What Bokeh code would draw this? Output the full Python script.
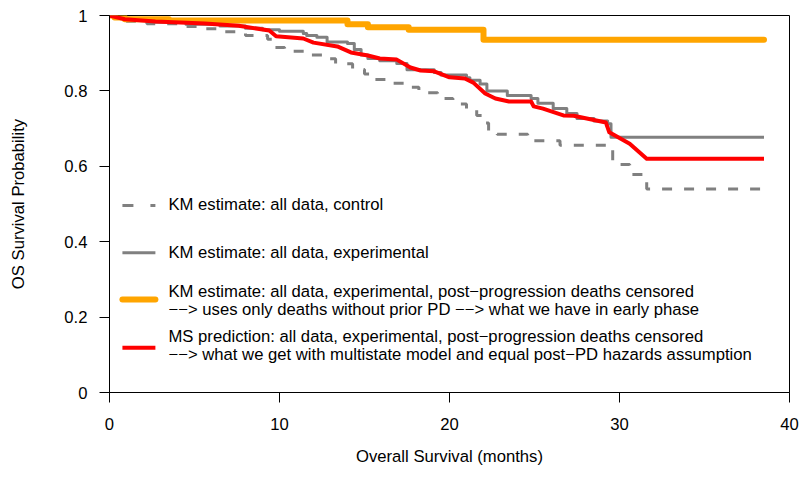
from bokeh.plotting import figure
from bokeh.models import Range1d, FixedTicker, Label, CustomJSTickFormatter
from bokeh.embed import file_html
from bokeh.resources import INLINE

# Kaplan-Meier estimate, all data, control arm (step function)
ctrl_months = [0, 0.3, 1.0, 2.2, 4.0, 5.5, 6.8, 8.0, 9.3, 9.6, 10.3, 11.5, 12.6, 13.3,
               14.3, 15.0, 15.6, 16.6, 17.7, 18.2, 19.3, 20.2, 21.0, 21.6, 22.0, 22.3,
               22.8, 24.6, 26.5, 29.3, 29.6, 30.6, 31.6, 38.5]
ctrl_surv = [1.0, 0.993, 0.985, 0.978, 0.971, 0.965, 0.957, 0.947, 0.937, 0.915, 0.905,
             0.895, 0.885, 0.872, 0.857, 0.845, 0.83, 0.82, 0.81, 0.795, 0.78, 0.765,
             0.75, 0.735, 0.715, 0.695, 0.685, 0.668, 0.656, 0.645, 0.605, 0.578, 0.54, 0.54]

# Kaplan-Meier estimate, all data, experimental arm
exp_months = [0, 0.4, 1.2, 2.5, 4.5, 6.5, 8.0, 9.0, 10.0, 11.4, 11.6, 12.2, 12.8, 14.0,
              14.4, 14.8, 15.2, 15.9, 16.9, 17.5, 19.1, 19.5, 21.0, 21.2, 21.8, 22.2,
              23.4, 24.8, 25.2, 26.1, 26.9, 27.5, 28.5, 29.3, 29.5, 38.5]
exp_surv = [1.0, 0.993, 0.987, 0.982, 0.977, 0.972, 0.966, 0.962, 0.958, 0.952, 0.947,
            0.942, 0.93, 0.926, 0.91, 0.895, 0.886, 0.88, 0.873, 0.856, 0.849, 0.842,
            0.835, 0.828, 0.818, 0.80, 0.788, 0.78, 0.767, 0.753, 0.74, 0.727, 0.72,
            0.713, 0.677, 0.677]

# Experimental arm with post-progression deaths censored
cens_months = [0, 0.3, 0.9, 3.5, 14.0, 15.2, 17.6, 22.0, 38.5]
cens_surv = [1.0, 0.995, 0.99, 0.987, 0.977, 0.969, 0.962, 0.936, 0.936]

# Multistate model prediction
ms_months = [0, 0.9, 2.7, 5.6, 7.6, 9.4, 9.8, 11.4, 12.0, 13.4, 14.2, 15.2, 15.9, 16.9,
             17.7, 18.3, 19.1, 20.0, 20.9, 21.4, 22.1, 22.7, 23.5, 24.8, 24.95, 25.5,
             26.7, 27.3, 29.2, 29.4, 30.0, 30.6, 31.6, 38.5]
ms_surv = [1.0, 0.99, 0.984, 0.979, 0.973, 0.96, 0.945, 0.939, 0.928, 0.918, 0.902,
           0.894, 0.886, 0.883, 0.862, 0.854, 0.852, 0.836, 0.833, 0.822, 0.793, 0.78,
           0.772, 0.772, 0.759, 0.753, 0.735, 0.734, 0.716, 0.69, 0.675, 0.66, 0.62, 0.62]

x_ticks = [0, 10, 20, 30, 40]
y_ticks = [0, 0.2, 0.4, 0.6, 0.8, 1]

legend_rows = [
    ["KM estimate: all data, control"],
    ["KM estimate: all data, experimental"],
    ["KM estimate: all data, experimental, post\u2212progression deaths censored",
     "\u2212\u2212> uses only deaths without prior PD \u2212\u2212> what we have in early phase"],
    ["MS prediction: all data, experimental, post\u2212progression deaths censored",
     "\u2212\u2212> what we get with multistate model and equal post\u2212PD hazards assumption"],
]

FONT = "Liberation Sans"
FS = "16.67px"
GREY = "#808080"
ORANGE = "#FFA500"
RED = "#FF0000"

p = figure(width=801, height=493, output_backend="svg", toolbar_location=None,
           x_range=Range1d(0, 40), y_range=Range1d(0, 1),
           min_border_left=109, min_border_right=12, min_border_top=15,
           min_border_bottom=101)
p.xgrid.visible = False
p.ygrid.visible = False
p.outline_line_color = "black"
p.outline_line_width = 1
p.background_fill_color = "white"
p.border_fill_color = "white"

for ax in (p.xaxis[0], p.yaxis[0]):
    ax.axis_line_color = "black"
    ax.axis_line_width = 1
    ax.major_tick_in = 0
    ax.major_tick_out = 10
    ax.major_tick_line_color = "black"
    ax.minor_tick_line_color = None
    ax.major_label_text_font = FONT
    ax.major_label_text_font_size = FS
    ax.major_label_text_color = "black"
    ax.axis_label_text_font = FONT
    ax.axis_label_text_font_size = FS
    ax.axis_label_text_font_style = "normal"
    ax.axis_label_text_color = "black"

p.xaxis.ticker = FixedTicker(ticks=x_ticks)
p.yaxis.ticker = FixedTicker(ticks=y_ticks)
p.yaxis.formatter = CustomJSTickFormatter(code="return String(tick)")
p.yaxis.major_label_orientation = "horizontal"
p.xaxis.axis_label = "Overall Survival (months)"
p.yaxis.axis_label = "OS Survival Probability"
p.xaxis.major_label_standoff = 15
p.xaxis.axis_label_standoff = 14
p.yaxis.major_label_standoff = 12
p.yaxis.axis_label_standoff = 33

# survival curves
p.step(ctrl_months, ctrl_surv, mode="after", line_color=GREY, line_width=3,
       line_dash="10 12")
p.step(exp_months, exp_surv, mode="after", line_color=GREY, line_width=3,
       line_join="round")
p.step(cens_months, cens_surv, mode="after", line_color=ORANGE, line_width=6,
       line_join="round", line_cap="round")
p.line(ms_months, ms_surv, line_color=RED, line_width=4, line_join="round")

# legend (no frame), keys and labels placed in data space
key_x = [0.76, 2.7]
key_specs = [
    dict(y=0.496, color=GREY, width=3, dash="11 17", cap="butt"),
    dict(y=0.371, color=GREY, width=3, dash="solid", cap="butt"),
    dict(y=0.247, color=ORANGE, width=6, dash="solid", cap="round"),
    dict(y=0.119, color=RED, width=4, dash="solid", cap="butt"),
]
label_ys = [[0.499], [0.371], [0.268, 0.220], [0.1485, 0.101]]
for spec, rows, ys in zip(key_specs, legend_rows, label_ys):
    p.line(key_x, [spec["y"], spec["y"]], line_color=spec["color"],
           line_width=spec["width"], line_dash=spec["dash"], line_cap=spec["cap"])
    for txt, yy in zip(rows, ys):
        p.add_layout(Label(x=3.47, y=yy, text=txt, text_font=FONT,
                           text_font_size=FS, text_color="black",
                           text_baseline="middle", text_align="left"))

open("out.html", "w").write(file_html(p, INLINE))
